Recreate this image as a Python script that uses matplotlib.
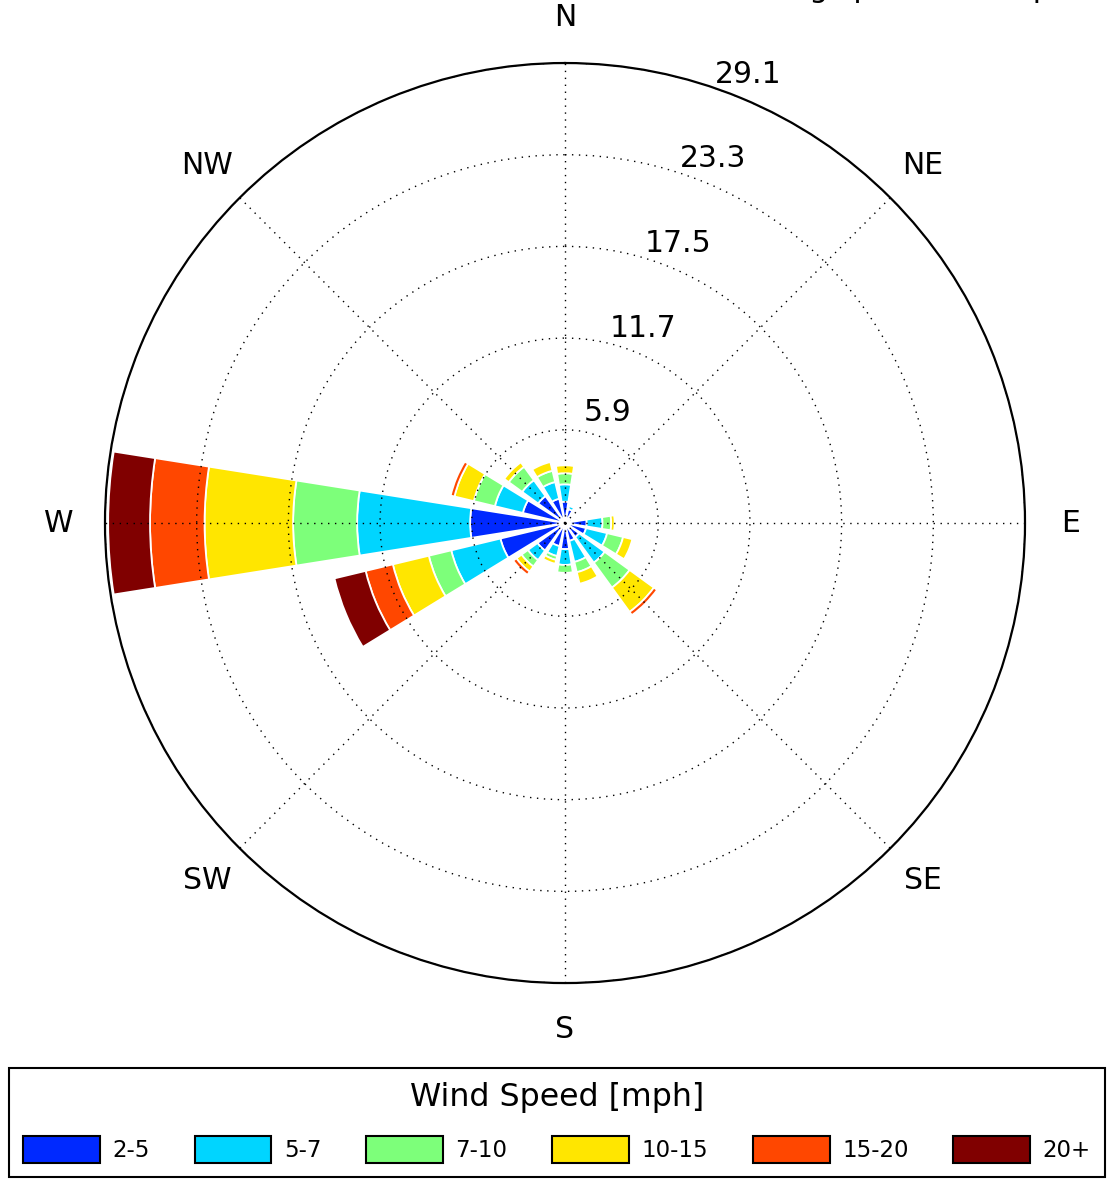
import numpy as np
import matplotlib
matplotlib.use("Agg")
import matplotlib.pyplot as plt
from matplotlib.patches import Patch
from matplotlib import transforms

# ---------------- data ----------------
directions = ['N', 'NNE', 'NE', 'ENE', 'E', 'ESE', 'SE', 'SSE',
              'S', 'SSW', 'SW', 'WSW', 'W', 'WNW', 'NW', 'NNW']
speed_bins = ['2-5', '5-7', '7-10', '10-15', '15-20', '20+']

# frequency (%) per direction for each speed bin
f_2_5   = [1.35, 0.90, 0.40, 0.50, 1.37, 1.37, 1.10, 1.16, 1.65, 1.50, 2.15, 4.20, 6.00, 2.74, 2.10, 1.58]
f_5_7   = [1.10, 0.20, 0.00, 0.10, 1.00, 1.37, 2.00, 1.37, 1.00, 0.65, 0.75, 3.20, 7.15, 1.82, 1.25, 1.09]
f_7_10  = [0.70, 0.00, 0.00, 0.00, 0.55, 1.04, 1.95, 0.67, 0.50, 0.25, 0.50, 1.46, 4.05, 1.37, 1.05, 0.73]
f_10_15 = [0.50, 0.00, 0.00, 0.00, 0.22, 0.60, 1.90, 0.75, 0.00, 0.25, 0.40, 2.34, 5.60, 1.26, 0.35, 0.57]
f_15_20 = [0.00, 0.00, 0.00, 0.00, 0.00, 0.00, 0.25, 0.00, 0.00, 0.00, 0.25, 1.77, 3.45, 0.25, 0.00, 0.00]
f_20p   = [0.00, 0.00, 0.00, 0.00, 0.00, 0.00, 0.00, 0.00, 0.00, 0.00, 0.00, 2.03, 2.65, 0.00, 0.00, 0.00]

r_ticks = [5.9, 11.7, 17.5, 23.3, 29.1]
r_tick_labels = ['5.9', '11.7', '17.5', '23.3', '29.1']
compass_labels = ['N', 'NE', 'E', 'SE', 'S', 'SW', 'W', 'NW']

series = [f_2_5, f_5_7, f_7_10, f_10_15, f_15_20, f_20p]

# ---------------- figure ----------------
fig = plt.figure(figsize=(11.11, 11.80), dpi=100)
ax = fig.add_axes([0.0945, 0.1669, 0.8281, 0.7797], projection='polar')
ax.set_theta_zero_location('N')
ax.set_theta_direction(-1)

colors = plt.cm.jet(np.linspace(0, 1, len(speed_bins) + 1))[1:]

n = len(directions)
theta = np.deg2rad(np.arange(n) * 360.0 / n)
width = np.deg2rad(360.0 / n * 0.8)

bottom = np.zeros(n)
for vals, col in zip(series, colors):
    vals = np.asarray(vals, dtype=float)
    m = vals > 0
    ax.bar(theta[m], vals[m], width=width, bottom=bottom[m], color=col,
           edgecolor='white', linewidth=1.3, align='center', zorder=1)
    bottom += vals

ax.set_rlim(0, r_ticks[-1])
ax.set_rgrids(r_ticks, labels=[''] * len(r_ticks))
ax.set_thetagrids(np.arange(0, 360, 45), labels=[''] * 8)
ax.grid(True, color='black', linestyle=(0, (1, 4)), linewidth=1.0)
ax.spines['polar'].set_linewidth(1.6)
ax.tick_params(length=0)

tick_fs = 21.5
# compass labels
for ang, lab in zip(np.arange(0, 360, 45), compass_labels):
    ax.text(np.deg2rad(ang), r_ticks[-1] * 1.1, lab, ha='center', va='center',
            fontsize=tick_fs, clip_on=False)

# radial labels
off = transforms.offset_copy(ax.transData, fig=fig, x=7, y=24, units='dots')
for r, lab in zip(r_ticks, r_tick_labels):
    ax.text(np.deg2rad(22.5), r, lab, transform=off, ha='center', va='center',
            fontsize=tick_fs, clip_on=False)

# partially visible title (cut off at top of image)
fig.text(0.4565, 1.0025, 'Wind direction during speed in the period',
         fontsize=tick_fs, ha='left', va='baseline')

# legend
handles = [Patch(facecolor=c, edgecolor='black', linewidth=1.5) for c in colors]
leg = fig.legend(handles, speed_bins, loc='lower center', ncol=6,
                 bbox_to_anchor=(0.5014, 0.0025), borderaxespad=0,
                 title='Wind Speed [mph]', fontsize=16.5, title_fontsize=22.8,
                 handlelength=3.35, handleheight=1.45, handletextpad=0.55,
                 columnspacing=1.95, fancybox=False, edgecolor='black',
                 framealpha=1, borderpad=0.6, labelspacing=1.0)
leg.get_frame().set_linewidth(1.5)

fig.savefig('out.png', dpi=100)
